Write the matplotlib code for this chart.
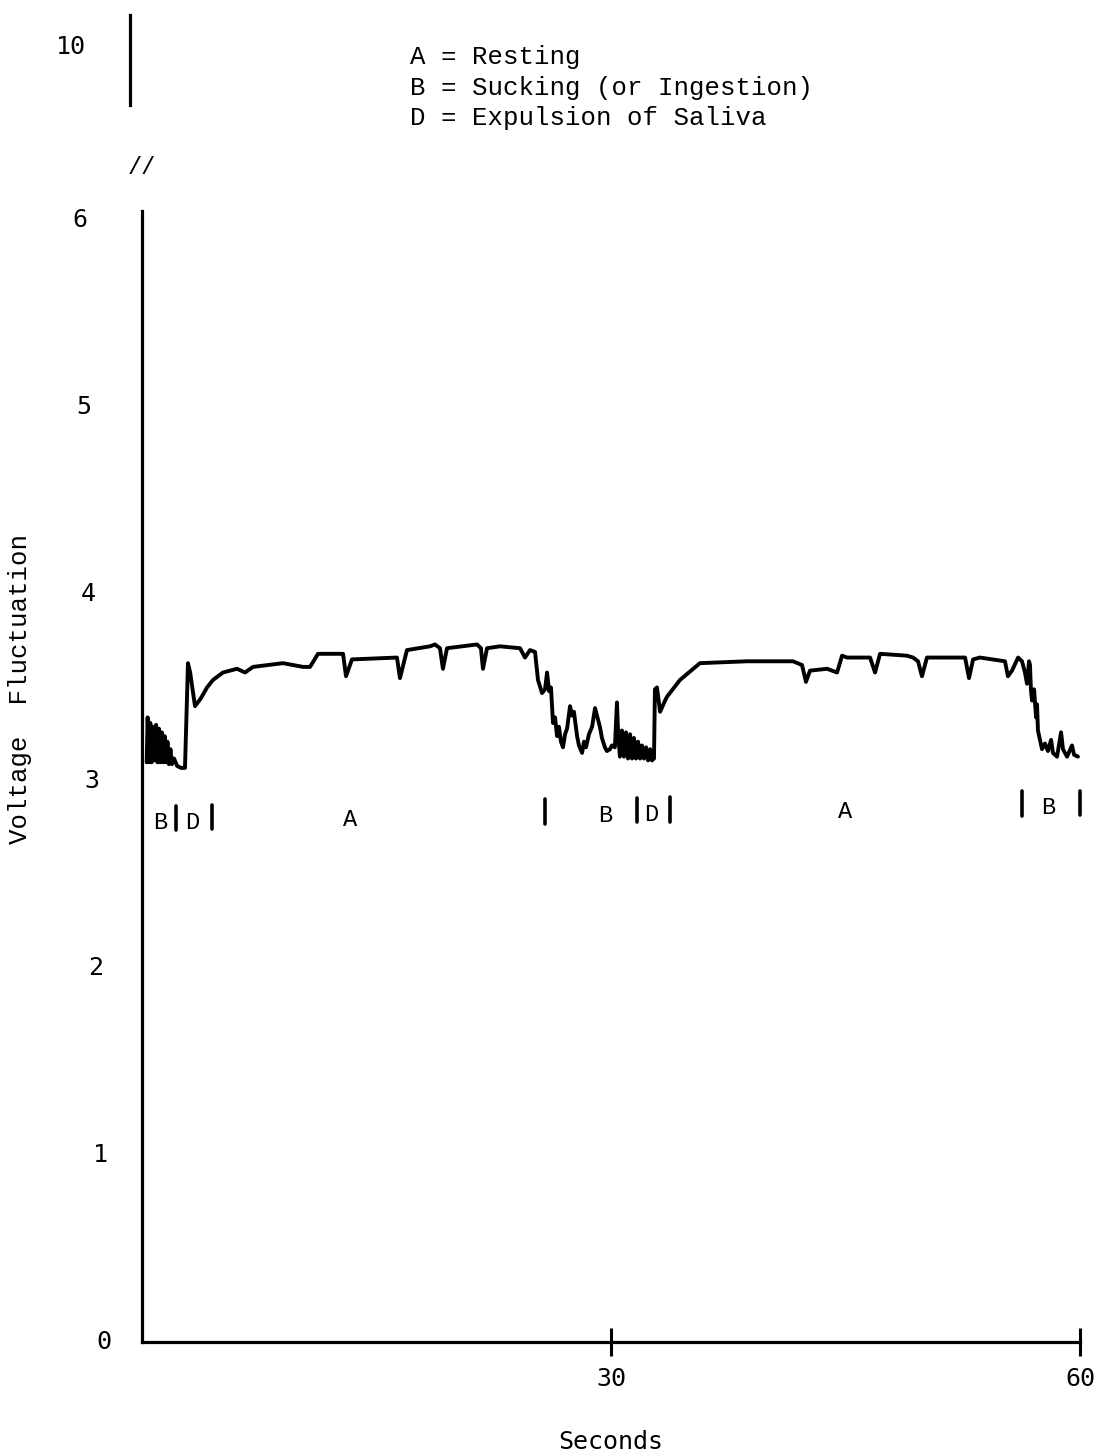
import matplotlib
matplotlib.use("Agg")
import matplotlib.pyplot as plt
from matplotlib.transforms import blended_transform_factory

# ---- recorded trace, split by feeding phase (time in s, voltage) ----
# first sucking burst (B)
t_suck1 = [0.30, 0.36, 0.44, 0.53, 0.62, 0.71, 0.80, 0.90, 0.99, 1.08, 1.17,
           1.27, 1.36, 1.45, 1.54, 1.63, 1.72, 1.82, 1.92, 2.05, 2.25, 2.50, 2.75]
v_suck1 = [3.10, 3.34, 3.10, 3.31, 3.10, 3.29, 3.11, 3.30, 3.10, 3.28, 3.10,
           3.26, 3.10, 3.24, 3.10, 3.21, 3.09, 3.17, 3.09, 3.12, 3.08, 3.07, 3.07]

# saliva expulsion spike (D) and first resting period (A)
t_rest1 = [2.94, 3.08, 3.39, 3.75, 4.16, 4.54, 5.18, 6.08, 6.59, 7.10, 9.02,
           10.30, 10.75, 11.26, 12.86, 13.05, 13.43, 16.31, 16.50, 16.95, 18.42,
           18.74, 19.06, 19.25, 19.51, 21.43, 21.68, 21.81, 22.07, 22.90, 24.18,
           24.50, 24.82, 25.14]
v_rest1 = [3.63, 3.58, 3.40, 3.44, 3.50, 3.54, 3.58, 3.60, 3.58, 3.61, 3.63,
           3.61, 3.61, 3.68, 3.68, 3.56, 3.65, 3.66, 3.55, 3.70, 3.72,
           3.73, 3.71, 3.60, 3.71, 3.73, 3.71, 3.60, 3.71, 3.72, 3.71,
           3.66, 3.70, 3.69]

# second sucking period (B)
t_suck2 = [25.33, 25.59, 25.78, 25.91, 26.04, 26.16, 26.29, 26.42, 26.55, 26.67,
           26.80, 26.93, 27.06, 27.19, 27.38, 27.51, 27.63, 27.83, 27.95, 28.15,
           28.27, 28.40, 28.59, 28.79, 28.98, 29.10, 29.29, 29.42, 29.61, 29.74,
           29.93, 30.06, 30.25, 30.38, 30.45, 30.57, 30.70, 30.83, 30.96, 31.09,
           31.22, 31.35, 31.47, 31.60, 31.73, 31.86, 31.98, 32.11, 32.24, 32.37,
           32.50, 32.62, 32.75]
v_suck2 = [3.54, 3.47, 3.49, 3.58, 3.48, 3.50, 3.31, 3.34, 3.24, 3.29,
           3.21, 3.18, 3.25, 3.28, 3.40, 3.35, 3.37, 3.24, 3.19, 3.15,
           3.21, 3.18, 3.25, 3.29, 3.39, 3.35, 3.29, 3.23, 3.18, 3.16,
           3.17, 3.19, 3.18, 3.42, 3.27, 3.13, 3.27, 3.13, 3.26, 3.12,
           3.25, 3.12, 3.23, 3.12, 3.21, 3.12, 3.19, 3.12, 3.18, 3.11,
           3.17, 3.11, 3.12]

# saliva expulsion spike (D) and second resting period (A)
t_rest2 = [32.81, 32.94, 33.14, 33.46, 33.58, 34.41, 35.69, 38.70, 40.17, 41.64,
           42.22, 42.47, 42.73, 43.82, 44.46, 44.78, 45.10, 46.57, 46.89, 47.21,
           48.93, 49.32, 49.64, 49.89, 50.21, 52.65, 52.90, 53.16, 53.60, 55.20,
           55.39, 55.65, 56.04, 56.29, 56.48, 56.61, 56.74]
v_rest2 = [3.49, 3.50, 3.37, 3.43, 3.45, 3.54, 3.63, 3.64, 3.64, 3.64,
           3.62, 3.53, 3.59, 3.60, 3.58, 3.67, 3.66, 3.66, 3.58, 3.68,
           3.67, 3.66, 3.64, 3.56, 3.66, 3.66, 3.55, 3.65, 3.66, 3.64,
           3.56, 3.59, 3.66, 3.64, 3.58, 3.52, 3.64]

# final sucking period (B)
t_suck3 = [56.80, 56.86, 56.93, 57.06, 57.19, 57.25, 57.31, 57.44, 57.57, 57.76,
           57.95, 58.15, 58.27, 58.53, 58.79, 58.91, 59.17, 59.49, 59.62, 59.87]
v_suck3 = [3.62, 3.49, 3.43, 3.49, 3.34, 3.41, 3.27, 3.22, 3.17, 3.20,
           3.16, 3.22, 3.15, 3.13, 3.26, 3.17, 3.13, 3.19, 3.14, 3.13]

# ---- phase annotations under the trace ----
phase_codes = ["B", "D", "A", "B", "D", "A", "B"]
phase_mid_s = [1.15, 3.2, 13.3, 29.6, 32.6, 45.0, 57.95]
phase_edges_s = [2.17, 4.48, 25.78, 31.66, 33.8, 56.3, 60.0]

# ---- key ----
key_codes = ["A", "B", "D"]
key_names = ["Resting", "Sucking (or Ingestion)", "Expulsion of Saliva"]

# ---- axes ticks ----
y_ticks = [0, 1, 2, 3, 4, 5, 6]
y_break_tick = 10
x_ticks = [30, 60]

time_s = t_suck1 + t_rest1 + t_suck2 + t_rest2 + t_suck3
voltage = v_suck1 + v_rest1 + v_suck2 + v_rest2 + v_suck3

MONO_SERIF = ["Liberation Mono", "DejaVu Sans Mono"]
MONO_SANS = ["DejaVu Sans Mono"]
W, H = 1099, 1456
AX_LEFT, AX_RIGHT = 142, 1080

fig = plt.figure(figsize=(W / 100, H / 100), dpi=100)
fig.patch.set_facecolor("white")

# main panel: 0-6 V, 0-60 s
ax = fig.add_axes([AX_LEFT / W, 1 - 1342 / H, (AX_RIGHT - AX_LEFT) / W,
                   (1342 - 210.6) / H])
ax.set_xlim(0, 60)
ax.set_ylim(0, 6.05)
ax.plot(time_s, voltage, color="black", lw=2.8, solid_joinstyle="round",
        solid_capstyle="round")

for side in ("top", "right"):
    ax.spines[side].set_visible(False)
for side in ("left", "bottom"):
    ax.spines[side].set_linewidth(2.3)
    ax.spines[side].set_color("black")

ax.set_xticks(x_ticks)
ax.set_xticklabels([str(v) for v in x_ticks], family=MONO_SANS, fontsize=18)
ax.tick_params(axis="x", direction="inout", length=20, width=2.2, pad=8)

# voltage labels, set in a slightly slanted column as typed on the sheet
ax.set_yticks(y_ticks)
ax.tick_params(axis="y", length=0, labelleft=False)
ylab_tr = blended_transform_factory(ax.transAxes, ax.transData)
for v in y_ticks:
    x_px = 104 - 4 * v
    ax.text((x_px - AX_LEFT) / (AX_RIGHT - AX_LEFT), v, str(v),
            transform=ylab_tr, family=MONO_SANS, fontsize=18,
            ha="center", va="center")

ax.set_xlabel("Seconds", family=MONO_SANS, fontsize=18, labelpad=28)
ax.set_ylabel("Voltage  Fluctuation", family=MONO_SERIF, fontsize=18.5)
ax.yaxis.set_label_coords(-0.117, 0.577)

# phase letters and boundary marks
for code, t in zip(phase_codes, phase_mid_s):
    ax.text(t, 2.775 + 0.0014 * t, code, family=MONO_SERIF, fontsize=17,
            ha="center", va="center")
for t in phase_edges_s:
    yc = 2.80 + 0.0014 * t
    ax.plot([t, t], [yc - 0.065, yc + 0.065], color="black", lw=2.6,
            solid_capstyle="round", clip_on=False)

# broken upper part of the voltage axis
ax_top = fig.add_axes([130 / W, 1 - 105 / H, 0.01, 90 / H])
ax_top.set_ylim(9.4, 10.3)
ax_top.set_xticks([])
for side in ("top", "right", "bottom"):
    ax_top.spines[side].set_visible(False)
ax_top.spines["left"].set_linewidth(2.3)
ax_top.set_yticks([y_break_tick])
ax_top.set_yticklabels([str(y_break_tick)], family=MONO_SANS, fontsize=18)
ax_top.tick_params(axis="y", length=0, pad=32)
ax_top.patch.set_alpha(0)
fig.text(142 / W, 1 - 168 / H, "//", family=MONO_SERIF, fontsize=17,
         ha="center", va="center")

# key
for i, (code, name) in enumerate(zip(key_codes, key_names)):
    fig.text(410 / W, 1 - (57 + 30.5 * i) / H, f"{code} = {name}",
             family=MONO_SERIF, fontsize=18.5, ha="left", va="center")

fig.savefig("out.png", dpi=100, facecolor="white")
